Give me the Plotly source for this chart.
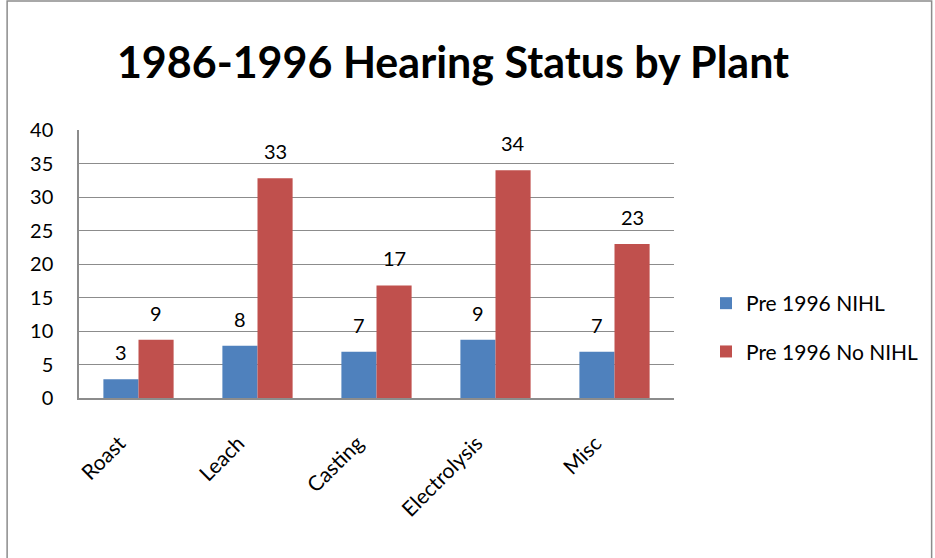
import plotly.graph_objects as go

plants = ["Roast", "Leach", "Casting", "Electrolysis", "Misc"]
nihl = [2.8, 7.8, 6.9, 8.7, 6.9]
no_nihl = [8.7, 32.8, 16.8, 34.0, 23.0]
nihl_labels = ["3", "8", "7", "9", "7"]
no_nihl_labels = ["9", "33", "17", "34", "23"]
y_ticks = [0, 5, 10, 15, 20, 25, 30, 35, 40]

FONT = "Lato, Open Sans, sans-serif"
BLUE = "#4F81BD"
RED = "#C0504D"
GRID = "#8C8C8C"

fig = go.Figure()
fig.add_bar(x=plants, y=nihl, name="Pre 1996 NIHL", marker_color=BLUE,
            marker_line_width=0, legendgroup="a")
fig.add_bar(x=plants, y=no_nihl, name="Pre 1996 No NIHL", marker_color=RED,
            marker_line_width=0, legendgroup="b")

# data labels sit well above the bar tops, as in the Excel original
for vals, labels, shift in [(nihl, nihl_labels, -17.5), (no_nihl, no_nihl_labels, 17.5)]:
    for cat, v, t in zip(plants, vals, labels):
        fig.add_annotation(x=cat, y=v, text=t, showarrow=False, xshift=shift, yshift=13,
                           yanchor="bottom", font=dict(family=FONT, size=20, color="black"))

# outer chart frame
fig.add_shape(type="rect", xref="paper", yref="paper",
              x0=-0.1208, x1=1.433, y0=-0.62, y1=1.481,
              line=dict(color="#8C8C8C", width=1.5))

fig.update_layout(
    width=935, height=558,
    margin=dict(l=79, r=260, t=130, b=160),
    paper_bgcolor="white", plot_bgcolor="white",
    title=dict(text="<b>1986-1996 Hearing Status by Plant</b>", x=0.4845, xanchor="center",
               y=0.888, yanchor="middle",
               font=dict(family=FONT, size=43, color="black")),
    barmode="group", bargap=0.41, bargroupgap=0,
    showlegend=True,
    legend=dict(x=1.052, y=0.263, xanchor="left", yanchor="middle",
                font=dict(family=FONT, size=21, color="black"),
                itemwidth=30, tracegroupgap=18, bgcolor="rgba(0,0,0,0)"),
    font=dict(family=FONT, color="black"),
)
# trailing no-break spaces push the slanted labels down-left of their ticks, like Excel
fig.update_xaxes(showline=True, linecolor=GRID, linewidth=1.5, tickangle=-45,
                 tickvals=plants, ticktext=[p + "\u00a0" * 5 for p in plants],
                 tickfont=dict(family=FONT, size=21, color="black"),
                 ticks="outside", ticklen=4, tickcolor="white")
fig.update_yaxes(range=[0, 40], tickvals=y_ticks, showgrid=True, gridcolor=GRID, gridwidth=1,
                 showline=True, linecolor=GRID, linewidth=1.5, zeroline=False,
                 tickfont=dict(family=FONT, size=20, color="black"), ticklabelstandoff=20)

# drop the browser's default 8px body margin so the figure sits at the page origin
fig.write_html("out.html", config={"displayModeBar": False},
               post_script="document.body.style.margin='0';")
